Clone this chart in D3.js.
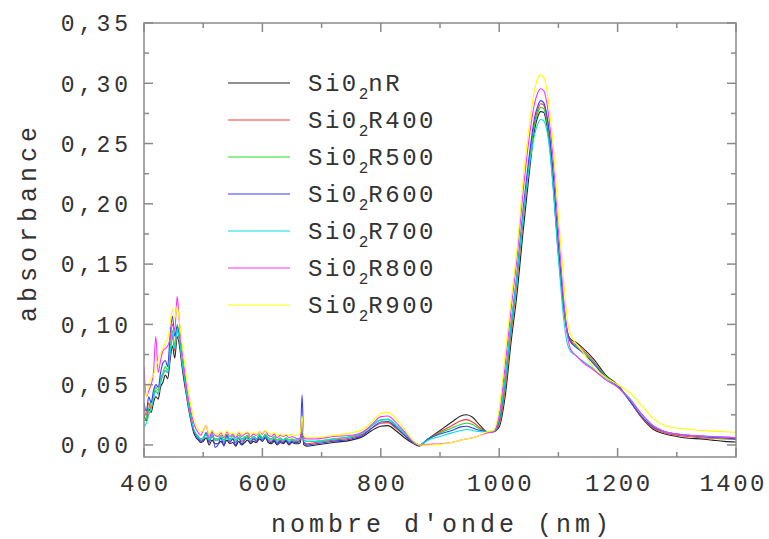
<!DOCTYPE html>
<html><head><meta charset="utf-8">
<script src="https://cdn.jsdelivr.net/npm/d3@7"></script>
<style>
body{margin:0;background:#fff;}
text{font-family:"Liberation Mono",monospace;fill:#333;}
</style></head>
<body><svg id="chart" width="769" height="539"></svg>
<script>
const wavelength = [
400,404,408,412,416,420,424,428,432,436,440,444,448,452,456,460,464,468,472,476,480,484,488,492,496,500,505,510,515,520,
525,530,535,540,545,550,555,560,565,570,575,580,585,590,595,600,605,610,615,620,625,630,635,640,645,650,655,660,
664,667,670,675,
690,720,750,770,785,800,812,825,840,852,865,880,900,920,935,945,955,968,980,
990,1000,1010,1020,1030,1040,1050,1060,1065,1070,1075,1080,1085,1090,1100,1110,1115,1120,1130,1140,1160,1180,1200,1220,1240,1260,1280,1300,1320,1340,1360,1380,1400];

const SiO2nR = [
0.025,0.02,0.03,0.027,0.035,0.04,0.038,0.048,0.052,0.058,0.055,0.07,0.082,0.072,0.09,0.082,0.066,0.052,0.04,0.028,0.018,0.01,0.006,0.004,0.002,0.003,0.006,0.0,0.004,0.001,
0.001,0.003,0.0,0.004,0.001,0.002,-0.001,0.003,0.0,0.002,0.004,0.001,0.003,0.002,0.005,0.003,0.006,0.002,0.001,0.003,0.0,0.002,0.001,0.003,0.0,0.002,0.001,0.001,
0.002,0.012,0.0,-0.001,
0.0,0.002,0.004,0.007,0.012,0.0155,0.016,0.012,0.006,0.002,-0.001,0.005,0.012,0.019,0.024,0.025,0.023,0.016,0.011,
0.011,0.015,0.04,0.085,0.125,0.175,0.222,0.262,0.272,0.2765,0.276,0.267,0.25,0.222,0.158,0.11,0.094,0.088,0.085,0.081,0.071,0.058,0.05,0.037,0.023,0.013,0.009,0.007,0.0055,0.005,0.004,0.003,0.0025];

const SiO2R400 = [
0.03,0.025,0.035,0.03,0.04,0.045,0.042,0.052,0.058,0.062,0.06,0.075,0.09,0.078,0.095,0.086,0.07,0.056,0.042,0.03,0.02,0.012,0.008,0.006,0.004,0.005,0.009,0.003,0.007,0.004,
0.004,0.006,0.002,0.007,0.003,0.005,0.002,0.006,0.003,0.005,0.007,0.003,0.006,0.004,0.007,0.005,0.008,0.004,0.003,0.005,0.002,0.004,0.003,0.005,0.002,0.004,0.003,0.003,
0.004,0.018,0.002,0.001,
0.002,0.004,0.006,0.009,0.014,0.018,0.0185,0.014,0.008,0.003,0.0,0.005,0.011,0.016,0.02,0.021,0.019,0.014,0.011,
0.011,0.017,0.046,0.092,0.135,0.185,0.23,0.268,0.278,0.283,0.282,0.273,0.255,0.228,0.162,0.11,0.093,0.087,0.083,0.079,0.069,0.057,0.049,0.037,0.023,0.014,0.01,0.008,0.007,0.006,0.0055,0.005,0.0045];

const SiO2R500 = [
0.02,0.022,0.03,0.035,0.04,0.048,0.045,0.055,0.06,0.065,0.062,0.078,0.095,0.082,0.1,0.09,0.072,0.058,0.044,0.032,0.022,0.013,0.009,0.007,0.005,0.006,0.01,0.004,0.008,0.005,
0.005,0.008,0.004,0.009,0.005,0.007,0.004,0.008,0.005,0.006,0.008,0.005,0.007,0.005,0.009,0.006,0.009,0.006,0.005,0.007,0.004,0.006,0.004,0.006,0.004,0.005,0.004,0.004,
0.006,0.022,0.004,0.003,
0.003,0.005,0.007,0.01,0.016,0.0205,0.021,0.016,0.009,0.003,0.0,0.005,0.01,0.014,0.017,0.018,0.017,0.013,0.011,
0.011,0.019,0.05,0.095,0.138,0.188,0.232,0.266,0.275,0.28,0.279,0.27,0.253,0.226,0.16,0.11,0.093,0.086,0.082,0.078,0.068,0.057,0.049,0.037,0.024,0.015,0.011,0.009,0.008,0.007,0.006,0.0055,0.005];

const SiO2R600 = [
0.035,0.028,0.04,0.035,0.045,0.05,0.048,0.06,0.068,0.07,0.065,0.09,0.107,0.09,0.098,0.088,0.07,0.056,0.043,0.031,0.021,0.012,0.008,0.005,0.003,0.004,0.01,0.002,0.012,-0.002,
0.0,0.006,-0.001,0.008,0.002,0.005,0.0,0.006,0.001,0.004,0.006,0.002,0.005,0.003,0.007,0.004,0.007,0.003,0.002,0.004,0.001,0.003,0.002,0.004,0.001,0.003,0.002,0.002,
0.004,0.0415,0.002,0.0,
0.001,0.003,0.005,0.008,0.014,0.019,0.0195,0.015,0.008,0.003,0.0,0.005,0.009,0.012,0.015,0.0155,0.014,0.012,0.011,
0.011,0.02,0.055,0.1,0.142,0.193,0.237,0.272,0.281,0.2856,0.284,0.275,0.258,0.232,0.166,0.112,0.094,0.086,0.081,0.077,0.067,0.056,0.049,0.037,0.024,0.015,0.011,0.009,0.008,0.007,0.0065,0.006,0.005];

const SiO2R700 = [
0.015,0.018,0.025,0.03,0.038,0.045,0.042,0.052,0.058,0.062,0.06,0.075,0.092,0.08,0.096,0.087,0.07,0.057,0.043,0.031,0.021,0.013,0.009,0.006,0.005,0.005,0.009,0.004,0.008,0.004,
0.004,0.007,0.003,0.006,0.004,0.008,0.003,0.006,0.004,0.007,0.005,0.004,0.007,0.005,0.008,0.005,0.008,0.005,0.004,0.006,0.003,0.005,0.004,0.005,0.003,0.004,0.004,0.004,
0.005,0.016,0.004,0.003,
0.003,0.005,0.007,0.01,0.016,0.021,0.0215,0.017,0.01,0.004,0.0,0.004,0.007,0.01,0.012,0.0128,0.012,0.011,0.011,
0.011,0.022,0.055,0.1,0.14,0.188,0.228,0.258,0.266,0.27,0.269,0.262,0.246,0.22,0.155,0.1,0.084,0.078,0.074,0.07,0.063,0.055,0.048,0.039,0.026,0.016,0.011,0.009,0.008,0.0075,0.007,0.0065,0.006];

const SiO2R800 = [
0.065,0.04,0.045,0.05,0.06,0.09,0.06,0.07,0.078,0.08,0.082,0.088,0.1,0.095,0.123,0.1,0.08,0.064,0.048,0.036,0.026,0.018,0.013,0.01,0.008,0.012,0.016,0.006,0.012,0.008,
0.007,0.01,0.006,0.011,0.007,0.009,0.006,0.01,0.007,0.009,0.01,0.007,0.009,0.008,0.011,0.009,0.012,0.008,0.007,0.009,0.006,0.008,0.007,0.008,0.006,0.007,0.006,0.005,
0.006,0.02,0.006,0.005,
0.005,0.007,0.008,0.011,0.017,0.0235,0.024,0.019,0.011,0.004,0.0,0.0005,0.001,0.002,0.004,0.005,0.006,0.008,0.01,
0.011,0.025,0.065,0.112,0.155,0.208,0.252,0.284,0.292,0.2955,0.294,0.285,0.267,0.243,0.178,0.115,0.092,0.08,0.074,0.069,0.062,0.054,0.048,0.038,0.026,0.016,0.011,0.009,0.008,0.0075,0.007,0.0065,0.006];

const SiO2R900 = [
0.045,0.04,0.05,0.055,0.058,0.065,0.07,0.076,0.08,0.085,0.088,0.1,0.113,0.105,0.115,0.102,0.085,0.07,0.055,0.042,0.031,0.022,0.017,0.013,0.011,0.012,0.016,0.009,0.012,0.009,
0.009,0.011,0.008,0.012,0.009,0.01,0.008,0.011,0.009,0.01,0.011,0.009,0.01,0.009,0.011,0.01,0.012,0.01,0.009,0.01,0.008,0.009,0.008,0.009,0.008,0.009,0.008,0.008,
0.01,0.024,0.008,0.006,
0.006,0.008,0.01,0.013,0.019,0.026,0.027,0.022,0.013,0.005,0.0,0.0,0.0005,0.002,0.004,0.005,0.006,0.008,0.011,
0.012,0.03,0.075,0.12,0.162,0.218,0.262,0.295,0.304,0.307,0.305,0.296,0.277,0.255,0.19,0.13,0.104,0.092,0.084,0.078,0.064,0.056,0.05,0.0435,0.033,0.022,0.016,0.014,0.013,0.012,0.0115,0.011,0.0105];

const seriesNames = ["nR","R400","R500","R600","R700","R800","R900"];
const seriesValues = [SiO2nR,SiO2R400,SiO2R500,SiO2R600,SiO2R700,SiO2R800,SiO2R900];
const seriesColors = ["#222222","#ff3b3b","#22dd22","#3a3aff","#00e0e0","#ff30ff","#ffff00"];
const xTickLabels = ["400","600","800","1000","1200","1400"];
const yTickLabels = ["0,00","0,05","0,10","0,15","0,20","0,25","0,30","0,35"];

const svg = d3.select("#chart");
const W = 769;
const L=144, R=736, T=23, B=457;
const x = d3.scaleLinear().domain([400,1400]).range([L,R]);
const y = d3.scaleLinear().domain([-0.01,0.35]).range([B,T]);

svg.append("clipPath").attr("id","clip").append("rect")
  .attr("x",L).attr("y",T).attr("width",R-L).attr("height",B-T);

const line = d3.line().x((d,i)=>x(wavelength[i])).y(d=>y(d)).curve(d3.curveMonotoneX);
const g = svg.append("g").attr("clip-path","url(#clip)");
seriesValues.forEach((vals,k)=>{
  g.append("path").attr("d",line(vals)).attr("fill","none")
   .attr("stroke",seriesColors[k]).attr("stroke-width",1.1).attr("stroke-linejoin","round");
});

// frame
svg.append("rect").attr("x",L).attr("y",T).attr("width",R-L).attr("height",B-T)
  .attr("fill","none").attr("stroke","#8a8a8a").attr("stroke-width",1.5);

const axStroke = "#8a8a8a";
const xMajor = xTickLabels.map(Number);
const xMinor = d3.range(500,1400,200);
const yMajor = yTickLabels.map(s=>+s.replace(",","."));
const yMinor = d3.range(0,7).map(i=>0.025+0.05*i);

function xticks(vals,len){
  vals.forEach(v=>{
    svg.append("line").attr("x1",x(v)).attr("x2",x(v)).attr("y1",B).attr("y2",B-len).attr("stroke",axStroke).attr("stroke-width",1.5);
    svg.append("line").attr("x1",x(v)).attr("x2",x(v)).attr("y1",T).attr("y2",T+len).attr("stroke",axStroke).attr("stroke-width",1.5);
  });
}
function yticks(vals,len){
  vals.forEach(v=>{
    svg.append("line").attr("y1",y(v)).attr("y2",y(v)).attr("x1",L).attr("x2",L+len).attr("stroke",axStroke).attr("stroke-width",1.5);
    svg.append("line").attr("y1",y(v)).attr("y2",y(v)).attr("x1",R).attr("x2",R-len).attr("stroke",axStroke).attr("stroke-width",1.5);
  });
}
xticks(xMajor,9); xticks(xMinor,5);
yticks(yMajor,9); yticks(yMinor,5);

// tick labels
yTickLabels.forEach((s,i)=>{
  svg.append("text").attr("x",132).attr("y",y(yMajor[i])).attr("dy","0.36em")
    .attr("text-anchor","end").style("font-size","23px").style("letter-spacing","4px").text(s);
});
xTickLabels.forEach((s,i)=>{
  const t = svg.append("text").attr("x",x(xMajor[i])).attr("y",491)
    .attr("text-anchor","start").style("font-size","24px").style("letter-spacing","2.5px").text(s);
  const w = t.node().getComputedTextLength();
  let x0 = x(xMajor[i]) - (w-2.5)/2;
  if (x0 + w > W - 2) x0 = W - 2 - w;
  t.attr("x", x0);
});

svg.append("text").attr("x",442).attr("y",532).attr("text-anchor","middle")
  .style("font-size","25px").style("letter-spacing","4px").text("nombre d'onde (nm)");
svg.append("text").attr("transform","translate(36,222) rotate(-90)").attr("text-anchor","middle")
  .style("font-size","25px").style("letter-spacing","5px").text("absorbance");

// legend
const legY0 = 83, legDy = 37;
seriesNames.forEach((n,k)=>{
  const yy = legY0 + k*legDy;
  svg.append("line").attr("x1",228).attr("x2",290).attr("y1",yy).attr("y2",yy)
    .attr("stroke",seriesColors[k]).attr("stroke-width",1.2);
  const t = svg.append("text").attr("x",308).attr("y",yy+8).style("font-size","24px").style("letter-spacing","2.5px");
  t.append("tspan").text("Si0");
  t.append("tspan").attr("dy",8).style("font-size","16px").style("letter-spacing","0px").text("2");
  t.append("tspan").attr("dy",-8).text(n);
});
</script></body></html>
